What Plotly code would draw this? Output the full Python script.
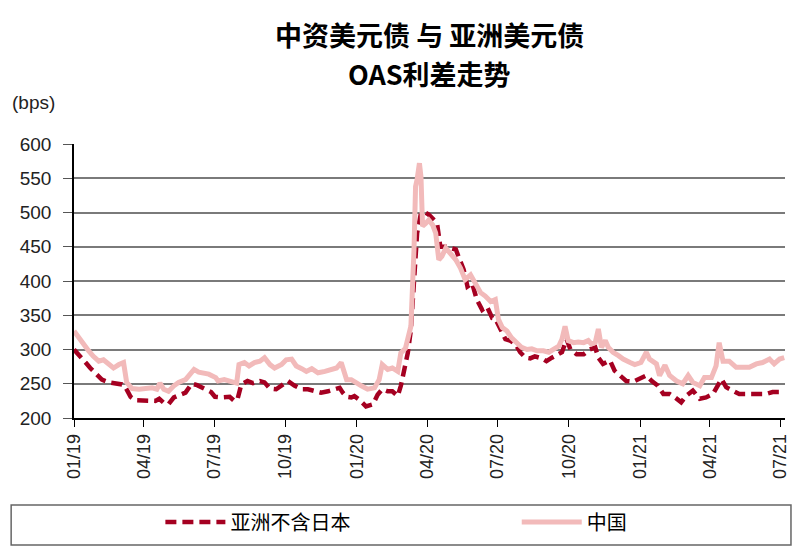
import plotly.graph_objects as go

# 中国 (China) OAS spread, bps
china_dates = [
    "2019-01-01", "2019-01-07", "2019-01-13", "2019-01-20", "2019-01-26", "2019-02-02",
    "2019-02-08", "2019-02-15", "2019-02-21", "2019-02-28", "2019-03-06", "2019-03-10",
    "2019-03-17", "2019-03-26", "2019-04-03", "2019-04-12", "2019-04-18", "2019-04-22",
    "2019-04-27", "2019-05-03", "2019-05-10", "2019-05-16", "2019-05-25", "2019-05-31",
    "2019-06-05", "2019-06-11", "2019-06-18", "2019-06-24", "2019-07-03", "2019-07-06",
    "2019-07-14", "2019-07-23", "2019-07-30", "2019-08-02", "2019-08-09", "2019-08-15",
    "2019-08-22", "2019-08-29", "2019-09-04", "2019-09-11", "2019-09-17", "2019-09-26",
    "2019-10-02", "2019-10-09", "2019-10-15", "2019-10-22", "2019-10-28", "2019-11-04",
    "2019-11-12", "2019-11-21", "2019-11-29", "2019-12-06", "2019-12-12", "2019-12-19",
    "2019-12-25", "2019-12-31", "2020-01-07", "2020-01-15", "2020-01-24", "2020-01-30",
    "2020-02-03", "2020-02-10", "2020-02-16", "2020-02-23", "2020-02-27", "2020-03-04",
    "2020-03-11", "2020-03-15", "2020-03-17", "2020-03-19", "2020-03-22", "2020-03-24",
    "2020-03-26", "2020-03-30", "2020-04-03", "2020-04-08", "2020-04-12", "2020-04-16",
    "2020-04-20", "2020-04-25", "2020-05-01", "2020-05-08", "2020-05-14", "2020-05-20",
    "2020-05-27", "2020-06-02", "2020-06-09", "2020-06-15", "2020-06-22", "2020-06-28",
    "2020-07-02", "2020-07-07", "2020-07-13", "2020-07-19", "2020-07-26", "2020-08-01",
    "2020-08-08", "2020-08-14", "2020-08-21", "2020-08-29", "2020-09-05", "2020-09-11",
    "2020-09-18", "2020-09-22", "2020-09-26", "2020-09-30", "2020-10-07", "2020-10-13",
    "2020-10-20", "2020-10-26", "2020-10-30", "2020-11-04", "2020-11-08", "2020-11-12",
    "2020-11-17", "2020-11-21", "2020-11-27", "2020-12-04", "2020-12-10", "2020-12-19",
    "2020-12-25", "2021-01-02", "2021-01-09", "2021-01-13", "2021-01-22", "2021-01-26",
    "2021-02-02", "2021-02-08", "2021-02-17", "2021-02-25", "2021-03-04", "2021-03-10",
    "2021-03-19", "2021-03-25", "2021-04-03", "2021-04-09", "2021-04-13", "2021-04-18",
    "2021-04-26", "2021-05-05", "2021-05-13", "2021-05-22", "2021-05-31", "2021-06-08",
    "2021-06-17", "2021-06-23", "2021-06-30", "2021-07-06",
]
china_oas = [
    327, 317, 310, 298, 290, 283,
    285, 278, 273, 278, 281, 252,
    243, 242, 243, 244, 242, 251,
    242, 239, 247, 252, 256, 264,
    271, 267, 266, 264, 259, 254,
    256, 254, 251, 278, 281, 276,
    281, 283, 288, 278, 273, 278,
    285, 286, 276, 272, 268, 272,
    266, 268, 271, 273, 281, 256,
    256, 251, 247, 242, 244, 256,
    278, 271, 273, 268, 295, 302,
    334, 446, 538, 548, 572, 552,
    480, 484, 489, 482, 470, 431,
    436, 448, 441, 431, 419, 402,
    409, 397, 383, 378, 370, 373,
    344, 332, 327, 317, 308, 303,
    300, 301, 298, 298, 296, 300,
    305, 315, 334, 313, 310, 311,
    310, 313, 308, 310, 330, 303,
    313, 303, 296, 291, 286, 281,
    278, 281, 296, 286, 279, 262,
    277, 262, 254, 250, 262, 252,
    247, 259, 259, 276, 310, 283,
    283, 274, 274, 274, 279, 281,
    286, 279, 286, 288,
]

# 亚洲不含日本 (Asia ex-Japan) OAS spread, bps
asia_dates = [
    "2019-01-01", "2019-01-07", "2019-01-16", "2019-01-22", "2019-01-29", "2019-02-06",
    "2019-02-15", "2019-02-24", "2019-03-04", "2019-03-08", "2019-03-15", "2019-03-21",
    "2019-03-30", "2019-04-07", "2019-04-16", "2019-04-21", "2019-04-27", "2019-05-03",
    "2019-05-10", "2019-05-16", "2019-05-25", "2019-06-02", "2019-06-09", "2019-06-18",
    "2019-06-27", "2019-07-02", "2019-07-10", "2019-07-21", "2019-07-27", "2019-07-31",
    "2019-08-05", "2019-08-13", "2019-08-20", "2019-08-29", "2019-09-04", "2019-09-11",
    "2019-09-19", "2019-09-28", "2019-10-04", "2019-10-13", "2019-10-22", "2019-10-30",
    "2019-11-08", "2019-11-16", "2019-11-25", "2019-12-04", "2019-12-10", "2019-12-14",
    "2019-12-19", "2019-12-25", "2019-12-29", "2020-01-04", "2020-01-13", "2020-01-22",
    "2020-01-28", "2020-02-03", "2020-02-10", "2020-02-16", "2020-02-23", "2020-02-27",
    "2020-03-02", "2020-03-07", "2020-03-11", "2020-03-15", "2020-03-19", "2020-03-24",
    "2020-03-28", "2020-04-03", "2020-04-10", "2020-04-14", "2020-04-18", "2020-04-25",
    "2020-05-01", "2020-05-08", "2020-05-12", "2020-05-18", "2020-05-23", "2020-05-29",
    "2020-06-04", "2020-06-11", "2020-06-17", "2020-06-24", "2020-06-28", "2020-07-04",
    "2020-07-11", "2020-07-17", "2020-07-24", "2020-07-30", "2020-08-06", "2020-08-12",
    "2020-08-18", "2020-08-27", "2020-09-02", "2020-09-09", "2020-09-15", "2020-09-22",
    "2020-09-28", "2020-10-03", "2020-10-11", "2020-10-20", "2020-10-28", "2020-11-04",
    "2020-11-08", "2020-11-14", "2020-11-23", "2020-11-29", "2020-12-06", "2020-12-14",
    "2020-12-23", "2021-01-01", "2021-01-09", "2021-01-16", "2021-01-24", "2021-01-31",
    "2021-02-08", "2021-02-15", "2021-02-23", "2021-03-02", "2021-03-10", "2021-03-19",
    "2021-03-27", "2021-04-05", "2021-04-11", "2021-04-16", "2021-04-22", "2021-05-01",
    "2021-05-09", "2021-05-18", "2021-05-26", "2021-06-04", "2021-06-12", "2021-06-21",
    "2021-06-30", "2021-07-06",
]
asia_oas = [
    300, 293, 281, 273, 264, 256,
    252, 250, 249, 246, 231, 226,
    226, 226, 225, 228, 222, 220,
    230, 233, 237, 250, 248, 243,
    238, 231, 230, 231, 225, 227,
    249, 254, 251, 254, 252, 243,
    242, 249, 254, 247, 242, 242,
    239, 237, 239, 242, 244, 237,
    231, 230, 232, 227, 217, 220,
    234, 242, 239, 239, 232, 247,
    271, 295, 329, 397, 470, 499,
    501, 497, 489, 482, 450, 450,
    448, 446, 434, 417, 392, 397,
    373, 358, 363, 346, 345, 330,
    315, 313, 308, 296, 288, 287,
    290, 287, 283, 288, 291, 296,
    315, 300, 293, 293, 300, 303,
    288, 279, 284, 269, 262, 254,
    253, 257, 262, 254, 247, 235,
    235, 230, 223, 233, 240, 228,
    230, 235, 247, 257, 245, 240,
    235, 235, 235, 235, 235, 238,
    238, 240,
]

y_ticks = [200, 250, 300, 350, 400, 450, 500, 550, 600]

latin = "Liberation Sans, Arial, sans-serif"
cjk = "Noto Sans CJK SC, sans-serif"

fig = go.Figure()
fig.add_trace(go.Scatter(x=asia_dates, y=asia_oas, mode="lines",
                         name="亚洲不含日本", legend="legend",
                         line=dict(color="#A50021", width=4.5, dash="11px,6px")))
fig.add_trace(go.Scatter(x=china_dates, y=china_oas, mode="lines",
                         name="中国", legend="legend2",
                         line=dict(color="#F2BABA", width=5)))

# legend frame
fig.add_shape(type="rect", xref="paper", yref="paper",
              x0=-0.0884, x1=1.0084, y0=-0.4635, y1=-0.3175,
              line=dict(color="#666666", width=1.5), fillcolor="rgba(0,0,0,0)")

fig.add_annotation(text="<b>中资美元债 与 亚洲美元债</b>", xref="paper", yref="paper",
                   x=0.5007, y=1.398, xanchor="center", yanchor="middle",
                   showarrow=False, font=dict(family=cjk, size=27, color="#000000"))
fig.add_annotation(text="<b>OAS利差走势</b>", xref="paper", yref="paper",
                   x=0.5007, y=1.259, xanchor="center", yanchor="middle",
                   showarrow=False, font=dict(family=cjk, size=27, color="#000000"))
fig.add_annotation(text="(bps)", xref="paper", yref="paper",
                   x=-0.0898, y=1.15, xanchor="left", yanchor="middle",
                   showarrow=False, font=dict(family=latin, size=19, color="#222222"))

legend_common = dict(orientation="h", y=-0.3796, xanchor="left", yanchor="middle",
                     font=dict(family=cjk, size=20, color="#000000"),
                     itemwidth=60, bgcolor="rgba(0,0,0,0)", borderwidth=0)

fig.update_layout(
    width=804, height=554,
    margin=dict(l=64, r=27, t=136, b=144),
    paper_bgcolor="white", plot_bgcolor="white",
    showlegend=True,
    legend=dict(x=0.1215, **legend_common),
    legend2=dict(x=0.6227, **legend_common),
    xaxis=dict(type="date", range=["2019-01-01", "2021-07-07"],
               tick0="2019-01-01", dtick="M3", tickformat="%m/%y",
               tickangle=-90, ticks="outside", ticklen=7, tickcolor="#000000",
               showline=True, linecolor="#000000", linewidth=1.5,
               showgrid=False, zeroline=False,
               tickfont=dict(family=latin, size=18, color="#222222")),
    yaxis=dict(range=[200, 600], tickvals=y_ticks,
               ticks="outside", ticklen=9, tickcolor="#555555",
               ticklabelstandoff=8,
               showline=True, linecolor="#000000", linewidth=1.5,
               showgrid=True, gridcolor="#7a7a7a", gridwidth=1.5,
               zeroline=False,
               tickfont=dict(family=latin, size=19, color="#222222")),
)

fig.write_html("out.html")
